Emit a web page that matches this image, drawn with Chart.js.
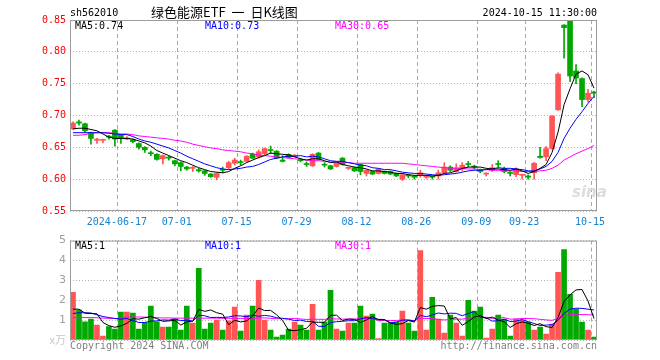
<!DOCTYPE html>
<html>
<head>
<meta charset="utf-8">
<script src="https://cdn.jsdelivr.net/npm/chart.js@4.4.1/dist/chart.umd.min.js"></script>
<style>
  body { margin: 0; background: #fff; }
  #wrap { position: relative; width: 660px; height: 360px; overflow: hidden;
          font-family: "DejaVu Sans Mono", monospace; font-size: 10px; color: #000; }
  canvas { position: absolute; left: 0; }
  .t { position: absolute; white-space: pre; line-height: 12px; }
</style>
</head>
<body>
<div id="wrap">
  <canvas id="price" width="660" height="230" style="top:0"></canvas>
  <canvas id="vol" width="660" height="130" style="top:230px"></canvas>

  <div class="t" style="left:70px;top:7px">sh562010</div>
  <div class="t" style="left:151px;top:4px;font-family:'Noto Sans CJK SC';font-size:13px;line-height:16px;word-spacing:3px">绿色能源ETF 一 日K线图</div>
  <div class="t" style="right:63px;top:7px">2024-10-15 11:30:00</div>

  <div class="t" style="left:75px;top:20px">MA5:0.74</div>
  <div class="t" style="left:205px;top:20px;color:#0000ff">MA10:0.73</div>
  <div class="t" style="left:335px;top:20px;color:#ff00ff">MA30:0.65</div>

  <div class="t" style="left:572px;top:186px;font-family:'DejaVu Sans';font-weight:bold;font-style:italic;font-size:15px;color:#dcdcdc">sina</div>

  <div class="t" style="left:75px;top:240px">MA5:1</div>
  <div class="t" style="left:205px;top:240px;color:#0000ff">MA10:1</div>
  <div class="t" style="left:335px;top:240px;color:#ff00ff">MA30:1</div>

  <div class="t" style="left:70px;top:340px;color:#808080">Copyright 2024 SINA.COM</div>
  <div class="t" style="right:63px;top:340px;color:#808080">http://finance.sina.com.cn</div>
</div>

<script>
// trading days, 2024-06-04 .. 2024-10-15
const dates = [
  '2024-06-04','2024-06-05','2024-06-06','2024-06-07','2024-06-11','2024-06-12','2024-06-13','2024-06-14',
  '2024-06-17','2024-06-18','2024-06-19','2024-06-20','2024-06-21','2024-06-24','2024-06-25','2024-06-26',
  '2024-06-27','2024-06-28',
  '2024-07-01','2024-07-02','2024-07-03','2024-07-04','2024-07-05','2024-07-08','2024-07-09','2024-07-10',
  '2024-07-11','2024-07-12','2024-07-15','2024-07-16','2024-07-17','2024-07-18','2024-07-19','2024-07-22',
  '2024-07-23','2024-07-24','2024-07-25','2024-07-26','2024-07-29','2024-07-30','2024-07-31',
  '2024-08-01','2024-08-02','2024-08-05','2024-08-06','2024-08-07','2024-08-08','2024-08-09','2024-08-12',
  '2024-08-13','2024-08-14','2024-08-15','2024-08-16','2024-08-19','2024-08-20','2024-08-21','2024-08-22',
  '2024-08-23','2024-08-26','2024-08-27','2024-08-28','2024-08-29','2024-08-30',
  '2024-09-02','2024-09-03','2024-09-04','2024-09-05','2024-09-06','2024-09-09','2024-09-10','2024-09-11',
  '2024-09-12','2024-09-13','2024-09-18','2024-09-19','2024-09-20','2024-09-23','2024-09-24','2024-09-25',
  '2024-09-26','2024-09-27','2024-09-30',
  '2024-10-08','2024-10-09','2024-10-10','2024-10-11','2024-10-14','2024-10-15'
];

const tickDates  = ['2024-06-17','2024-07-01','2024-07-15','2024-07-29','2024-08-12','2024-08-26','2024-09-09','2024-09-23','2024-10-15'];
const tickLabels = ['2024-06-17','07-01','07-15','07-29','08-12','08-26','09-09','09-23','10-15'];

const opens = [
  0.679,0.690,0.687,0.673,0.661,0.661,0.667,0.677,0.669,0.663,
  0.662,0.656,0.650,0.641,0.639,0.632,0.634,0.629,0.626,0.619,
  0.617,0.615,0.613,0.608,0.603,0.615,0.618,0.625,0.627,0.628,
  0.639,0.635,0.640,0.646,0.644,0.630,0.639,0.636,0.630,0.624,
  0.621,0.641,0.623,0.621,0.620,0.633,0.617,0.618,0.623,0.609,
  0.612,0.609,0.612,0.612,0.609,0.600,0.606,0.604,0.607,0.603,
  0.604,0.605,0.610,0.619,0.612,0.616,0.624,0.620,0.615,0.608,
  0.614,0.624,0.617,0.610,0.607,0.606,0.605,0.610,0.636,0.635,
  0.648,0.709,0.842,0.849,0.770,0.758,0.725,0.737
];
const highs = [
  0.690,0.693,0.688,0.674,0.664,0.663,0.669,0.678,0.670,0.667,
  0.663,0.657,0.651,0.644,0.640,0.638,0.636,0.630,0.627,0.620,
  0.620,0.617,0.614,0.609,0.610,0.619,0.628,0.633,0.630,0.637,
  0.641,0.646,0.649,0.652,0.645,0.637,0.640,0.639,0.633,0.627,
  0.640,0.642,0.626,0.622,0.626,0.634,0.619,0.619,0.624,0.615,
  0.613,0.617,0.613,0.613,0.610,0.609,0.608,0.606,0.614,0.606,
  0.605,0.614,0.626,0.621,0.624,0.626,0.628,0.622,0.616,0.610,
  0.623,0.629,0.619,0.612,0.618,0.608,0.607,0.626,0.650,0.651,
  0.700,0.767,0.843,0.850,0.780,0.759,0.741,0.738
];
const lows = [
  0.678,0.685,0.673,0.655,0.656,0.657,0.663,0.652,0.656,0.662,
  0.657,0.647,0.642,0.637,0.630,0.624,0.630,0.621,0.613,0.614,
  0.612,0.611,0.606,0.603,0.599,0.610,0.616,0.622,0.622,0.627,
  0.632,0.633,0.638,0.640,0.632,0.627,0.633,0.635,0.627,0.620,
  0.620,0.630,0.619,0.615,0.619,0.622,0.615,0.612,0.607,0.605,
  0.607,0.608,0.608,0.607,0.604,0.598,0.602,0.600,0.603,0.601,
  0.600,0.600,0.609,0.612,0.611,0.613,0.619,0.616,0.610,0.605,
  0.612,0.619,0.610,0.605,0.604,0.600,0.600,0.600,0.633,0.629,
  0.647,0.708,0.790,0.753,0.750,0.714,0.721,0.728
];
const closes = [
  0.688,0.688,0.676,0.664,0.663,0.662,0.666,0.663,0.664,0.665,
  0.659,0.650,0.646,0.640,0.631,0.637,0.633,0.624,0.620,0.616,
  0.618,0.613,0.609,0.604,0.609,0.614,0.626,0.630,0.626,0.636,
  0.633,0.643,0.648,0.645,0.633,0.628,0.634,0.637,0.629,0.623,
  0.639,0.631,0.622,0.616,0.625,0.623,0.618,0.613,0.612,0.614,
  0.608,0.616,0.609,0.608,0.605,0.607,0.605,0.603,0.610,0.604,
  0.603,0.610,0.619,0.614,0.618,0.622,0.623,0.619,0.612,0.609,
  0.618,0.623,0.612,0.609,0.616,0.607,0.603,0.625,0.634,0.648,
  0.699,0.765,0.838,0.762,0.759,0.725,0.735,0.735
];

const ma5 = [
  0.679,0.680,0.680,0.678,0.676,0.671,0.666,0.664,0.664,0.664,
  0.663,0.660,0.657,0.652,0.645,0.641,0.637,0.633,0.629,0.626,
  0.622,0.618,0.615,0.612,0.611,0.610,0.612,0.617,0.621,0.626,
  0.630,0.634,0.637,0.641,0.640,0.639,0.638,0.635,0.632,0.630,
  0.632,0.632,0.629,0.626,0.627,0.623,0.621,0.619,0.618,0.616,
  0.613,0.613,0.612,0.611,0.609,0.609,0.607,0.606,0.606,0.606,
  0.605,0.606,0.609,0.610,0.613,0.617,0.619,0.619,0.619,0.617,
  0.616,0.616,0.615,0.614,0.616,0.613,0.609,0.612,0.617,0.623,
  0.642,0.674,0.717,0.742,0.765,0.770,0.764,0.743
];
const ma10 = [
  0.673,0.673,0.673,0.673,0.673,0.673,0.672,0.671,0.670,0.670,
  0.667,0.663,0.660,0.658,0.655,0.652,0.649,0.645,0.641,0.636,
  0.632,0.628,0.624,0.621,0.618,0.616,0.615,0.616,0.617,0.619,
  0.620,0.623,0.627,0.631,0.633,0.635,0.636,0.636,0.637,0.635,
  0.636,0.635,0.632,0.629,0.628,0.628,0.626,0.624,0.622,0.621,
  0.618,0.617,0.615,0.615,0.613,0.611,0.610,0.609,0.609,0.608,
  0.607,0.606,0.607,0.608,0.609,0.611,0.613,0.614,0.614,0.615,
  0.616,0.618,0.617,0.617,0.616,0.615,0.613,0.613,0.616,0.620,
  0.628,0.642,0.664,0.680,0.694,0.706,0.719,0.730
];
const ma30 = [
  0.669,0.669,0.670,0.672,0.673,0.673,0.673,0.672,0.671,0.671,
  0.670,0.668,0.667,0.666,0.665,0.664,0.663,0.661,0.660,0.658,
  0.655,0.653,0.651,0.649,0.648,0.646,0.645,0.644,0.643,0.641,
  0.640,0.638,0.637,0.636,0.635,0.634,0.633,0.632,0.631,0.630,
  0.629,0.629,0.628,0.627,0.627,0.626,0.626,0.625,0.625,0.625,
  0.625,0.625,0.625,0.625,0.625,0.625,0.624,0.623,0.622,0.621,
  0.620,0.619,0.618,0.617,0.617,0.617,0.616,0.616,0.615,0.615,
  0.614,0.614,0.613,0.613,0.613,0.612,0.612,0.612,0.613,0.614,
  0.617,0.622,0.630,0.635,0.640,0.644,0.648,0.653
];

// volume, 万手
const volumes = [
  2.40,1.50,0.92,1.05,0.75,0.20,0.67,0.55,1.40,1.40,
  1.35,0.55,0.88,1.70,0.92,0.65,0.65,1.05,0.50,1.70,
  0.85,3.60,0.55,0.85,1.00,0.50,0.97,1.65,0.45,1.25,
  1.70,3.00,1.00,0.50,0.15,0.25,0.55,0.90,0.75,0.50,
  1.80,0.50,0.90,2.50,0.55,0.45,0.85,0.85,1.70,1.20,
  1.30,0.07,0.85,0.85,0.90,1.45,0.85,0.45,4.50,0.50,
  2.15,1.05,0.35,1.25,0.85,0.20,2.00,1.45,1.65,0.10,
  0.55,1.25,1.05,0.20,1.05,1.00,0.90,0.50,0.65,0.30,
  0.80,3.40,4.55,2.30,1.55,0.90,0.50,0.15
];
const volMa5 = [
  1.55,1.55,1.35,1.33,1.32,0.88,0.72,0.64,0.71,0.84,
  1.07,1.05,1.12,1.18,1.08,0.94,0.96,0.99,0.75,0.91,
  0.95,1.54,1.44,1.51,1.37,1.30,0.77,0.99,0.91,0.96,
  1.20,1.61,1.48,1.49,1.27,0.98,0.49,0.47,0.52,0.59,
  0.90,0.89,0.89,1.24,1.25,0.98,1.05,1.04,0.88,1.01,
  1.18,1.02,1.02,0.85,0.79,0.82,0.98,0.90,1.63,1.55,
  1.69,1.73,1.71,1.06,1.13,0.74,0.93,1.15,1.23,1.08,
  1.15,1.00,0.92,0.63,0.82,0.91,0.84,0.73,0.82,0.67,
  0.63,1.13,1.94,2.27,2.52,2.54,1.96,1.08
];
const volMa10 = [
  1.33,1.37,1.37,1.36,1.27,1.18,1.13,1.08,1.05,1.08,
  0.98,0.88,0.88,0.95,0.96,1.01,1.00,1.06,0.97,1.00,
  0.95,1.25,1.22,1.13,1.14,1.13,1.16,1.22,1.21,1.17,
  1.25,1.19,1.24,1.20,1.12,1.09,1.05,0.98,1.00,0.93,
  0.94,0.69,0.68,0.88,0.92,0.94,0.97,0.97,1.06,1.13,
  1.08,1.04,1.03,0.87,0.90,1.00,1.00,0.96,1.24,1.17,
  1.26,1.36,1.31,1.35,1.34,1.22,1.33,1.43,1.15,1.11,
  0.95,0.97,1.04,0.93,0.95,1.03,0.92,0.83,0.73,0.75,
  0.77,0.99,1.34,1.55,1.60,1.59,1.55,1.51
];
const volMa30 = [
  1.12,1.12,1.13,1.13,1.12,1.10,1.09,1.08,1.09,1.15,
  1.16,1.16,1.15,1.12,1.12,1.11,1.11,1.10,1.10,1.10,
  1.10,1.10,1.10,1.10,1.10,1.09,1.09,1.09,1.09,1.08,
  1.06,1.11,1.11,1.09,1.07,1.07,1.07,1.08,1.06,1.03,
  1.05,1.04,1.04,1.07,1.06,1.05,1.06,1.05,1.09,1.08,
  1.09,0.97,0.98,0.98,0.98,1.01,1.01,0.97,1.10,1.08,
  1.09,1.03,1.01,1.03,1.05,1.05,1.10,1.12,1.15,1.14,
  1.09,1.12,1.12,1.05,1.06,1.08,1.08,1.07,1.04,1.01,
  0.99,1.10,1.23,1.27,1.30,1.28,1.27,1.26
];

const UP = '#ff5555';
const DOWN = '#00a800';
const MONO = '"DejaVu Sans Mono", monospace';

const candleColors = closes.map((c, i) => (c >= opens[i] ? UP : DOWN));

// gray box round the plot area
const framePlugin = {
    id: 'frame',
    afterDraw(chart) {
        const { ctx, chartArea: a } = chart;
        ctx.save();
        ctx.strokeStyle = '#9c9c9c';
        ctx.lineWidth = 1;
        ctx.strokeRect(a.left + 0.5, a.top + 0.5, a.right - a.left - 1, a.bottom - a.top - 1);
        ctx.restore();
    },
};

function maLine(label, data, color) {
    return {
        type: 'line',
        label,
        data,
        borderColor: color,
        borderWidth: 1,
        pointRadius: 0,
        tension: 0,
        order: 0,
    };
}

function dateAxis(showLabels, height) {
    return {
        offset: true,
        grid: {
            offset: true,
            drawTicks: false,
            lineWidth: 1,
            color: ctx => (tickDates.includes(dates[ctx.index]) ? '#a8a8a8' : 'transparent'),
        },
        border: { display: false, dash: [4, 3] },
        ticks: {
            display: showLabels,
            autoSkip: false,
            maxRotation: 0,
            padding: 5,
            labelOffset: -4,
            color: '#1482d2',
            font: { family: MONO, size: 10 },
            callback: (v, i) => {
                const k = tickDates.indexOf(dates[i]);
                return k < 0 ? '' : tickLabels[k];
            },
        },
        afterFit: s => { s.height = height; },
    };
}

new Chart(document.getElementById('price'), {
    type: 'bar',
    data: {
        labels: dates,
        datasets: [
            maLine('MA5', ma5, '#000000'),
            maLine('MA10', ma10, '#0000ff'),
            maLine('MA30', ma30, '#ff00ff'),
            {
                label: 'wick',
                data: lows.map((l, i) => [l, highs[i]]),
                backgroundColor: candleColors,
                barThickness: 1,
                grouped: false,
                order: 2,
            },
            {
                label: 'body',
                data: opens.map((o, i) => [o, closes[i]]),
                backgroundColor: candleColors,
                barThickness: 5,
                minBarLength: 1,
                grouped: false,
                order: 1,
            },
        ],
    },
    options: {
        responsive: false,
        animation: false,
        layout: { padding: { top: 20, right: 63, left: 0, bottom: 0 } },
        plugins: { legend: { display: false }, tooltip: { enabled: false } },
        scales: {
            x: dateAxis(true, 19),
            y: {
                min: 0.55,
                max: 0.85,
                grid: { drawTicks: false, color: '#b4b4b4' },
                border: { display: false, dash: [1, 2] },
                ticks: {
                    stepSize: 0.05,
                    padding: 4,
                    color: '#ff0000',
                    font: { family: MONO, size: 10 },
                    callback: v => v.toFixed(2),
                },
                afterFit: s => { s.width = 70; },
            },
        },
    },
    plugins: [framePlugin],
});

new Chart(document.getElementById('vol'), {
    type: 'bar',
    data: {
        labels: dates,
        datasets: [
            maLine('MA5', volMa5, '#000000'),
            maLine('MA10', volMa10, '#0000ff'),
            maLine('MA30', volMa30, '#ff00ff'),
            {
                label: 'volume',
                data: volumes,
                backgroundColor: candleColors,
                barThickness: 5,
                order: 1,
            },
        ],
    },
    options: {
        responsive: false,
        animation: false,
        layout: { padding: { top: 10, right: 63, left: 0, bottom: 0 } },
        plugins: { legend: { display: false }, tooltip: { enabled: false } },
        scales: {
            x: dateAxis(false, 20),
            y: {
                min: 0,
                max: 5,
                grid: { drawTicks: false, color: '#b4b4b4' },
                border: { display: false, dash: [1, 2] },
                ticks: {
                    stepSize: 1,
                    padding: 4,
                    color: ctx => (ctx.tick.value === 0 ? '#c8c8c8' : '#a0a0a0'),
                    font: ctx => (ctx.tick && ctx.tick.value === 0
                        ? { family: '"Noto Sans CJK SC"', size: 11 }
                        : { family: 'DejaVu Sans', size: 11 }),
                    callback: v => (v === 0 ? 'x万' : String(v)),
                },
                afterFit: s => { s.width = 70; },
            },
        },
    },
    plugins: [framePlugin],
});
</script>
</body>
</html>
